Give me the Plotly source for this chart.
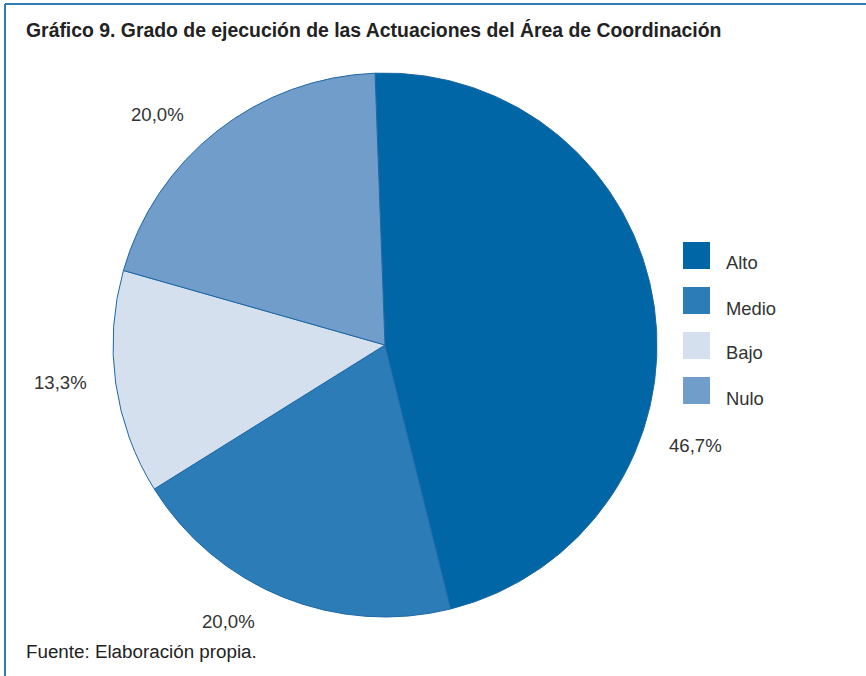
import math
import plotly.graph_objects as go

# ---- data ----
categories = ["Alto", "Medio", "Bajo", "Nulo"]
values = [46.7, 20.0, 13.3, 20.0]
colors = ["#0066a5", "#2c7cb8", "#d5e0ef", "#709dc9"]

title_text = "Gráfico 9. Grado de ejecución de las Actuaciones del Área de Coordinación"
source_text = "Fuente: Elaboración propia."

# ---- layout constants ----
W, H = 866, 676
CX, CY, R = 385, 345, 272          # pie centre / radius in pixels
START_ANGLE = -2.1                  # degrees clockwise from 12 o'clock
label_r = [1.2, 1.17, 1.2, 1.19]    # label radius as fraction of R
label_nudge = [26, 7.5, 1.5, -6.5]  # angular nudges (deg) to keep labels clear of legend
FONT = "Liberation Sans, Arial, sans-serif"

def px(x):
    return x / W

def py(y):
    return 1 - y / H

fig = go.Figure()
fig.add_trace(go.Pie(
    labels=categories,
    values=values,
    sort=False,
    direction="clockwise",
    rotation=START_ANGLE,
    marker=dict(colors=colors, line=dict(color="#1d68a5", width=1)),
    textinfo="none",
    hoverinfo="label+percent",
    showlegend=False,
    domain=dict(x=[px(CX - R), px(CX + R)], y=[py(CY + R), py(CY - R)]),
))

annotations = []
shapes = []

# percentage labels, positioned from slice mid-angles
total = sum(values)
cum = 0.0
for i, v in enumerate(values):
    mid = START_ANGLE + (cum + v / 2) / total * 360 + label_nudge[i]
    cum += v
    t = math.radians(mid)
    x = CX + label_r[i] * R * math.sin(t)
    y = CY - label_r[i] * R * math.cos(t)
    txt = f"{v / total * 100:.1f}%".replace(".", ",")
    annotations.append(dict(
        x=px(x), y=py(y), xref="paper", yref="paper", text=txt, showarrow=False,
        xanchor="center", yanchor="middle",
        font=dict(family=FONT, size=18.6, color="#333333"),
    ))

# legend (large swatches)
LEG_X, LEG_Y, LEG_S, LEG_STEP = 683, 242, 27, 45
for i, (cat, col) in enumerate(zip(categories, colors)):
    y0 = LEG_Y + i * LEG_STEP
    shapes.append(dict(type="rect", xref="paper", yref="paper",
                       x0=px(LEG_X), x1=px(LEG_X + LEG_S), y0=py(y0 + LEG_S), y1=py(y0),
                       fillcolor=col, line=dict(width=0)))
    annotations.append(dict(
        x=px(LEG_X + 41), y=py(y0 + 21), xref="paper", yref="paper", text=cat,
        showarrow=False, xanchor="left", yanchor="middle",
        font=dict(family=FONT, size=18.4, color="#333333"),
    ))

# title and source
annotations.append(dict(
    x=px(24), y=py(30), xref="paper", yref="paper", text=f"<b>{title_text}</b>",
    showarrow=False, xanchor="left", yanchor="middle",
    font=dict(family=FONT, size=19.4, color="#222222"),
))
annotations.append(dict(
    x=px(24), y=py(651), xref="paper", yref="paper", text=source_text,
    showarrow=False, xanchor="left", yanchor="middle",
    font=dict(family=FONT, size=18.8, color="#222222"),
))

# frame lines (top and left)
frame_col = "#2f7ab5"
shapes.append(dict(type="line", xref="paper", yref="paper",
                   x0=px(5), x1=1, y0=py(4), y1=py(4), line=dict(color=frame_col, width=2)))
shapes.append(dict(type="line", xref="paper", yref="paper",
                   x0=px(5), x1=px(5), y0=py(4), y1=0, line=dict(color=frame_col, width=2)))

fig.update_layout(
    width=W, height=H,
    margin=dict(l=0, r=0, t=0, b=0),
    paper_bgcolor="white", plot_bgcolor="white",
    annotations=annotations, shapes=shapes,
    showlegend=False,
)

fig.write_html("out.html", config={"displayModeBar": False},
               post_script="document.body.style.margin='0';")
